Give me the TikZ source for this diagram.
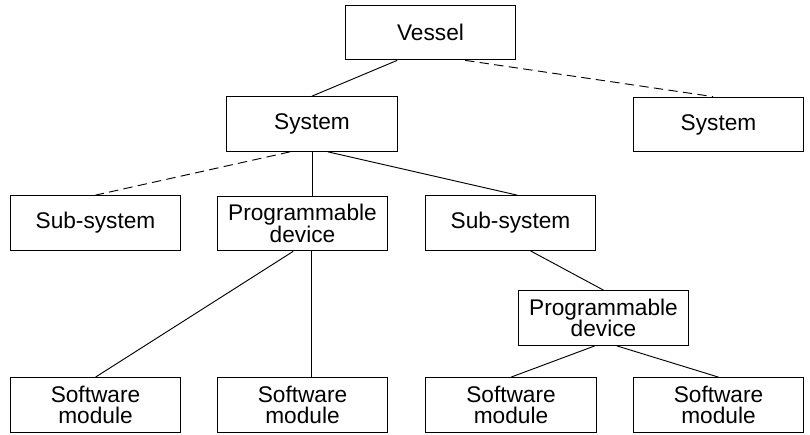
\documentclass[tikz,border=0pt]{standalone}
\usepackage{fontspec}
\setmainfont{Liberation Sans}

\begin{document}
\begin{tikzpicture}[x=0.75pt,y=0.75pt,yscale=-1,xscale=1,
    box/.style={draw,line width=0.8pt,rectangle,inner sep=0pt,minimum width=128pt,minimum height=41pt,align=center,font=\fontsize{17}{16}\selectfont},
    link/.style={line width=0.7pt},
    maybe/.style={line width=0.7pt,dash pattern=on 7pt off 4pt}]
        \useasboundingbox (0,0) rectangle (810,435);

        % Boxes
        \node [box] (vessel) at (430.5,32.5) {Vessel};
        \node [box] (sysA) at (312,124) {System};
        \node [box] (sysB) at (718.5,124.5) {System};
        \node [box] (subA) at (95.5,223) {Sub-system};
        \node [box] (progA) at (302.5,223.5) {Programmable\\device};
        \node [box] (subB) at (510.5,223) {Sub-system};
        \node [box] (progB) at (603.5,318) {Programmable\\device};
        \node [box] (swA) at (95.5,405) {Software\\module};
        \node [box] (swB) at (302.5,405) {Software\\module};
        \node [box] (swC) at (511,405) {Software\\module};
        \node [box] (swD) at (718.5,405) {Software\\module};

        % Links
        \draw [link] ([xshift=-25pt]vessel.south) -- (sysA.north) ;
        \draw [maybe] ([xshift=26pt]vessel.south) -- ([xshift=-4pt]sysB.north) ;
        \draw [maybe] ([xshift=-16.5pt]sysA.south) -- (subA.north) ;
        \draw [link] (sysA.south) -- (sysA.south |- progA.north) ;
        \draw [link] ([xshift=12pt]sysA.south) -- ([xshift=5pt]subB.north) ;
        \draw [link] ([xshift=15pt]subB.south) -- (progB.north) ;
        \draw [link] ([xshift=-7pt]progA.south) -- (swA.north) ;
        \draw [link] ([xshift=7pt]progA.south) -- ([xshift=7pt]swB.north) ;
        \draw [link] ([xshift=-6.5pt]progB.south) -- (swC.north) ;
        \draw [link] ([xshift=10pt]progB.south) -- (swD.north) ;

    \end{tikzpicture}
\end{document}
